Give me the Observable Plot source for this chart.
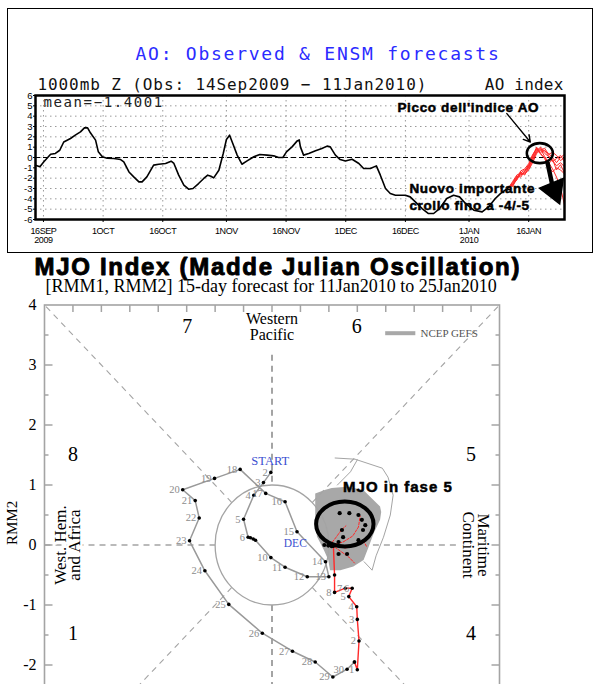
<!DOCTYPE html>
<html>
<head>
<meta charset="utf-8">
<script src="https://cdn.jsdelivr.net/npm/d3@7"></script>
<script src="https://cdn.jsdelivr.net/npm/@observablehq/plot@0.6"></script>
<style>
  html, body { margin: 0; padding: 0; background: #fff; }
  #wrap { position: relative; width: 600px; height: 684px; overflow: hidden; background: #fff; }
  #box { position: absolute; left: 7px; top: 7.5px; width: 585.5px; height: 245px; border: 1.5px solid #000; box-sizing: border-box; }
  #ao, #mjo { position: absolute; left: 0; }
  #ao { top: 0; }
  #mjo { top: 255px; }
</style>
</head>
<body>
<div id="wrap"><div id="box"></div><div id="ao"></div><div id="mjo"></div></div>
<script>
// ================= AO panel data =================
const aoStartUTC = Date.UTC(2009, 8, 14);           // 14 Sep 2009
const aoEndDay = 133;                                // 25 Jan 2010
const aoObsDay = [0,1.1,2.1,3.8,5,6.1,7.1,8.8,10,11.3,
  12.3,13.1,13.8,15.1,15.8,16.8,18,19.7,21.4,22.2,
  23.5,24.7,26,26.8,28,29.7,31,32.7,34.1,34.8,
  36,37.3,38.5,39.6,41,42.3,43.3,44.1,44.8,46.1,
  47.2,48,48.8,49.6,50.7,51.9,53.2,54.9,56.4,58.2,
  59.9,61.1,62.2,63.1,64.5,65.8,66.3,66.6,67.4,68.7,
  70.4,72,73.3,74.1,75.4,76.6,77.9,79.6,81.3,82.5,
  84.2,85.7,86.7,88,89.2,90.5,93,94.2,95.5,97.2,
  98.8,100.1,101.6,103.4,105.1,106.6,108.3,110.2,112.3,113.9,
  115.6,116.9,119];
const aoObsValue = [-0.75,-0.9,-0.42,0.32,0.39,0.7,1.5,1.84,2.16,2.48,
  2.87,2.87,2.39,1.68,0.55,0.07,-0.07,-0.1,-0.2,-0.42,
  -1.4,-1.88,-2.36,-2.36,-1.88,-0.74,-0.65,-0.58,-0.36,-0.58,
  -1.71,-2.68,-3.07,-3.0,-2.52,-2.03,-1.71,-1.81,-1.97,-1.23,
  0.39,1.74,2.16,1.35,0.23,-0.65,-0.33,0.07,0.29,0.23,
  0.16,0,0,0.55,1.03,1.61,1.7,1.03,0.23,0.39,
  0.65,0.87,1.1,1.03,0.23,-0.2,-0.33,-0.17,-0.58,-1.07,
  -1.07,-0.81,-1.71,-3.0,-3.49,-3.65,-3.65,-3.81,-4.3,-4.94,
  -5.42,-5.42,-4.94,-3.97,-3.65,-3.81,-4.52,-5.1,-5.26,-4.78,
  -3.97,-3.49,-2.9];
const aoFcStartDay = 119;   // 11 Jan 2010, daily members to 25 Jan
const aoMember1 = [-2.9,-2.5,-1.9,-1.6,-1.5,-1.1,-0.3,0.6,0.9,0.4,0.1,-0.3,-0.8,-0.5,-0.9];
const aoMember2 = [-2.9,-2.7,-2.1,-1.4,-1.7,-0.9,0.1,0.9,0.5,0.7,0.2,-0.4,-0.1,0.2,-0.4];
const aoMember3 = [-2.9,-2.4,-1.8,-1.9,-1.3,-0.7,0.2,1.0,0.3,0.0,-0.6,-0.2,-1.2,-0.7,-1.5];
const aoMember4 = [-2.9,-2.6,-2.2,-1.5,-1.2,-1.0,-0.1,0.5,0.8,0.1,-0.5,-1.1,-1.9,-2.9,-4.6];
const aoMember5 = [-2.9,-2.8,-2.0,-1.7,-1.4,-0.8,0.0,0.7,1.0,0.6,0.4,0.0,-0.5,0.0,0.3];
const aoMember6 = [-2.9,-2.6,-2.0,-1.3,-1.1,-0.6,0.3,0.8,0.4,-0.1,-0.9,-1.4,-1.0,-1.2,-1.6];
const aoMember7 = [-2.9,-2.3,-1.7,-1.5,-1.6,-1.2,-0.5,0.4,0.7,0.9,0.3,0.5,0.2,-0.3,0.0];
const aoTickDateStr = ["2009-09-16","2009-10-01","2009-10-16","2009-11-01","2009-11-16","2009-12-01","2009-12-16","2010-01-01","2010-01-16"];
const aoTickLabels = ["16SEP\n2009","1OCT","16OCT","1NOV","16NOV","1DEC","16DEC","1JAN\n2010","16JAN"];
const aoYTicks = [-6,-5,-4,-3,-2,-1,0,1,2,3,4,5,6];
const aoNoteText = ["Picco dell'indice AO", "Nuovo importante", "crollo fino a -4/-5"];
const aoNoteDay = [91, 94, 94];
const aoNoteValue = [4.38, -3.45, -5.1];
const aoArrowDay = [118.5, 124.4];
const aoArrowValue = [4.25, 1.5];
const aoRingDay = 126.8, aoRingValue = 0.42;
const aoBigArrowDay = [128.7, 129.9];
const aoBigArrowValue = [-0.45, -2.6];
const aoBigHeadDay = 130.4, aoBigHeadValue = -3.16;

// ================= MJO panel data =================
const decLabel = ["2","3","4","5","6","","","","10","11","12","13","14","15","16","17","18","19","20","21","22","23","24","25","26","27","28","29","30",""];
const decRMM1 = [-0.02,-0.15,-0.32,-0.50,-0.42,-0.38,-0.33,-0.29,-0.02,0.23,0.62,1.0,0.94,0.44,0.23,-0.11,-0.56,-1.01,-1.57,-1.35,-1.28,-1.45,-1.18,-0.76,-0.17,0.36,0.76,1.07,1.32,1.45];
const decRMM2 = [1.21,1.04,0.83,0.43,0.13,0.12,0.10,0.08,-0.21,-0.37,-0.53,-0.53,-0.28,0.22,0.72,0.86,1.26,1.11,0.92,0.74,0.45,0.07,-0.43,-0.99,-1.47,-1.77,-1.95,-2.20,-2.07,-1.95];
const janLabel = ["1","2","3","4","5","6","7","8","",""];
const janRMM1 = [1.50,1.53,1.50,1.49,1.35,1.41,1.29,1.10,1.10,1.08];
const janRMM2 = [-2.08,-1.60,-1.24,-1.03,-0.86,-0.72,-0.72,-0.79,-0.50,-0.02];
const fcDotRMM1 = [0.92,0.99,1.05,1.17,1.25,1.23,1.19,1.36,1.52,1.58,1.64,1.60,1.52,1.17,1.32];
const fcDotRMM2 = [0.0,-0.01,-0.02,0.05,0.13,0.25,0.53,0.53,0.50,0.42,0.33,0.25,0.08,-0.15,-0.15];
const fcMemberRMM1 = [[1.02,1.12,1.22,1.30],[1.05,1.25,1.42,1.52,1.55],[1.05,1.3,1.5,1.62,1.66],[1.05,1.2,1.35,1.45]];
const fcMemberRMM2 = [[0.0,0.12,0.25,0.32],[0.0,0.05,0.15,0.30,0.48],[0.0,-0.05,0.0,0.05,-0.02],[0.0,-0.1,-0.2,-0.3]];
const spreadRMM1 = [0.76,0.94,1.05,1.32,1.60,1.90,1.92,1.90,1.79,1.70,1.61,1.43,1.20,1.02,0.99,0.91,0.79,0.76,0.76,0.76];
const spreadRMM2 = [0.86,0.92,0.95,0.97,0.92,0.64,0.55,0.42,0.20,-0.03,-0.25,-0.36,-0.42,-0.42,-0.25,-0.08,0.14,0.42,0.70,0.86];
const envRMM1 = [1.11,1.46,1.94,2.04,2.13,2.08,1.96,1.83,1.76,1.62];
const envRMM2 = [1.45,1.43,1.28,1.13,0.83,0.50,0.13,-0.18,-0.42,-0.28];
const env2RMM1 = [1.15,1.38,1.50];
const env2RMM2 = [1.0,1.22,1.42];
const phaseLabel = ["7","6","8","5","1","4"];
const phaseRMM1 = [-1.49,1.49,-3.5,3.5,-3.5,3.5];
const phaseRMM2 = [3.53,3.53,1.40,1.40,-1.59,-1.59];
const mjoYTicks = [-2,-1,0,1,2,3,4];
const mjoHalfTicks = [-3.5,-3,-2.5,-2,-1.5,-1,-0.5,0,0.5,1,1.5,2,2.5,3,3.5];

// ================= helpers =================
const dayToDate = d => new Date(aoStartUTC + d * 864e5);
const ellipse = ratio => ({
  draw(ctx, size) {
    const rx = Math.sqrt(size / Math.PI), ry = rx * ratio, k = 0.5523;
    ctx.moveTo(rx, 0);
    ctx.bezierCurveTo(rx, ry * k, rx * k, ry, 0, ry);
    ctx.bezierCurveTo(-rx * k, ry, -rx, ry * k, -rx, 0);
    ctx.bezierCurveTo(-rx, -ry * k, -rx * k, -ry, 0, -ry);
    ctx.bezierCurveTo(rx * k, -ry, rx, -ry * k, rx, 0);
    ctx.closePath();
  }
});
// letter-spacing by text content (Plot has no letterSpacing option)
const spacing = (svg, test, px) => svg.querySelectorAll("text").forEach(t => {
  if (test(t.textContent)) t.setAttribute("letter-spacing", px);
});
const isOneOf = list => s => list.includes(s);

// ================= AO chart =================
const aoObs = aoObsDay.map((d, i) => ({date: dayToDate(d), value: aoObsValue[i]}));
const aoFc = [aoMember1, aoMember2, aoMember3, aoMember4, aoMember5, aoMember6, aoMember7]
  .flatMap((vals, m) => vals.map((v, i) => ({member: m, date: dayToDate(aoFcStartDay + i), value: v})));
const aoTicks = aoTickDateStr.map(s => new Date(s));
const aoNotes = aoNoteText.map((t, i) => ({text: t, date: dayToDate(aoNoteDay[i]), value: aoNoteValue[i]}));

const bold = {fontFamily: "Liberation Sans", fontWeight: "bold", fill: "#000", stroke: "#000", strokeWidth: 0.5};
const aoTitle = "AO: Observed & ENSM forecasts";
const aoSub = "1000mb Z (Obs: 14Sep2009 \u2212 11Jan2010)";
const aoMean = "mean=\u22121.4001";

const ao = Plot.plot({
  width: 600, height: 255,
  marginLeft: 35, marginRight: 36, marginTop: 95, marginBottom: 36,
  x: {type: "utc", domain: [dayToDate(0), dayToDate(aoEndDay)]},
  y: {domain: [-6, 6]},
  style: {fontFamily: "Liberation Sans", background: "transparent", overflow: "visible", color: "#000"},
  marks: [
    Plot.ruleY(aoYTicks, {stroke: "#9a9a9a", strokeDasharray: "1.5,3.5"}),
    Plot.ruleX(aoTicks, {stroke: "#9a9a9a", strokeDasharray: "1.5,3.5"}),
    Plot.ruleY([0], {stroke: "#000", strokeDasharray: "5,3"}),
    Plot.line(aoFc, {x: "date", y: "value", z: "member", stroke: "#ff2a2a", strokeWidth: 1}),
    Plot.line(aoObs, {x: "date", y: "value", stroke: "#000", strokeWidth: 1.6}),
    Plot.frame({stroke: "#000", strokeWidth: 2.5}),
    Plot.axisY({ticks: aoYTicks, tickSize: 2, tickPadding: 1, fontSize: 9.5, tickFormat: d => String(d), label: null}),
    Plot.axisX({ticks: aoTicks, tickSize: 3, tickPadding: 5, fontSize: 9, lineHeight: 1, label: null,
      tickFormat: d => aoTickLabels[aoTicks.findIndex(t => +t === +d)]}),
    Plot.text([aoTitle], {frameAnchor: "top", dx: 18, dy: -35.5, lineAnchor: "bottom",
      fontFamily: "DejaVu Sans Mono", fontSize: 18, fill: "#2b2bff"}),
    Plot.text([aoSub], {frameAnchor: "top-left", textAnchor: "start", dx: 2, dy: -6, lineAnchor: "bottom",
      fontFamily: "DejaVu Sans Mono", fontSize: 16, fill: "#111"}),
    Plot.text(["AO index"], {frameAnchor: "top-right", textAnchor: "end", dx: -1, dy: -6, lineAnchor: "bottom",
      fontFamily: "DejaVu Sans Mono", fontSize: 16, fill: "#111"}),
    Plot.text([aoMean], {frameAnchor: "top-left", textAnchor: "start", dx: 8, dy: 11, lineAnchor: "bottom",
      fontFamily: "DejaVu Sans Mono", fontSize: 14, fill: "#222"}),
    Plot.arrow([0], {x1: () => dayToDate(aoArrowDay[0]), y1: () => aoArrowValue[0], x2: () => dayToDate(aoArrowDay[1]), y2: () => aoArrowValue[1],
      stroke: "#000", strokeWidth: 1.4, headLength: 8}),
    Plot.dot([0], {x: () => dayToDate(aoRingDay), y: () => aoRingValue, r: 13, symbol: ellipse(0.77), stroke: "#000", fill: "none", strokeWidth: 2.6}),
    Plot.link([0], {x1: () => dayToDate(aoBigArrowDay[0]), y1: () => aoBigArrowValue[0], x2: () => dayToDate(aoBigArrowDay[1]), y2: () => aoBigArrowValue[1],
      stroke: "#000", strokeWidth: 4.5}),
    Plot.dot([0], {x: () => dayToDate(aoBigHeadDay), y: () => aoBigHeadValue, r: 9.5, symbol: "triangle", rotate: 158, fill: "#000", stroke: "#000"}),
    Plot.text(aoNotes, {x: "date", y: "value", text: "text", textAnchor: "start", lineAnchor: "bottom", fontSize: 13.5, ...bold})
  ]
});
spacing(ao, isOneOf([aoTitle]), "1.75");
spacing(ao, isOneOf([aoSub]), "0.9");
spacing(ao, isOneOf(["AO index"]), "0.2");
spacing(ao, isOneOf([aoMean]), "1.6");
spacing(ao, isOneOf(aoNoteText), "0.65");
spacing(ao, isOneOf(aoTickLabels.map(s => s.replace("\n", ""))), "-0.4");
document.getElementById("ao").append(ao);

// ================= MJO chart =================
const pxX = 455 / 8, pxY = 480 / 8;
const toPts = (xs, ys, labels) => xs.map((x, i) => ({x, y: ys[i], label: labels ? labels[i] : ""}));
const decPts = toPts(decRMM1, decRMM2, decLabel);
const janPts = toPts([decRMM1[decRMM1.length - 1], ...janRMM1], [decRMM2[decRMM2.length - 1], ...janRMM2], ["", ...janLabel]);
const fcDots = toPts(fcDotRMM1, fcDotRMM2);
const members = fcMemberRMM1.flatMap((xs, m) => xs.map((x, i) => ({m, x, y: fcMemberRMM2[m][i]})));
const spread = toPts(spreadRMM1, spreadRMM2);
const env = toPts(envRMM1, envRMM2);
const env2 = toPts(env2RMM1, env2RMM2);
const phases = toPts(phaseRMM1, phaseRMM2, phaseLabel);
const guides = [
  {x1: 0, y1: 3.17, x2: 0, y2: 1, w: 2}, {x1: 0, y1: -1, x2: 0, y2: -4, w: 2},
  {x1: -4, y1: 0, x2: -1, y2: 0, w: 1.6}, {x1: 1, y1: 0, x2: 3.25, y2: 0, w: 1.6},
  {x1: Math.SQRT1_2, y1: Math.SQRT1_2, x2: 4, y2: 4, w: 1.1}, {x1: -Math.SQRT1_2, y1: Math.SQRT1_2, x2: -4, y2: 4, w: 1.1},
  {x1: -Math.SQRT1_2, y1: -Math.SQRT1_2, x2: -4, y2: -4, w: 1.1}, {x1: Math.SQRT1_2, y1: -Math.SQRT1_2, x2: 4, y2: -4, w: 1.1}
];
const isMajor = v => Number.isInteger(v);
const leftTicks = mjoHalfTicks.map(v => ({x1: -4, x2: -4 + (isMajor(v) ? 8 : 4) / pxX, y1: v, y2: v}));
const rightTicks = mjoHalfTicks.map(v => ({x1: 4, x2: 4 - (isMajor(v) ? 8 : 4) / pxX, y1: v, y2: v}));
const topTicks = mjoHalfTicks.map(v => ({x1: v, x2: v, y1: 4, y2: 4 - 7 / pxY}));

const serif = "Liberation Serif";
const mjoTitle = "MJO Index (Madde Julian Oscillation)";
const mjoNote = "MJO in fase 5";
const mjo = Plot.plot({
  width: 600, height: 550,
  marginLeft: 44, marginRight: 101, marginTop: 49.5, marginBottom: 20.5,
  x: {domain: [-4, 4], axis: null},
  y: {domain: [-4, 4]},
  style: {fontFamily: serif, background: "transparent", overflow: "visible", color: "#000"},
  marks: [
    Plot.line(spread, {x: "x", y: "y", fill: "#a8a8a8", stroke: "none"}),
    Plot.link(guides, {x1: "x1", y1: "y1", x2: "x2", y2: "y2", stroke: "#a4a4a4", strokeWidth: "w", strokeDasharray: "6,5"}),
    Plot.dot([0], {x: () => 0, y: () => 0, r: pxX, symbol: ellipse(pxY / pxX), stroke: "#a4a4a4", fill: "none", strokeWidth: 1.3}),
    Plot.line(env, {x: "x", y: "y", stroke: "#a4a4a4", strokeWidth: 1}),
    Plot.line(env2, {x: "x", y: "y", stroke: "#a4a4a4", strokeWidth: 1}),
    Plot.line(decPts, {x: "x", y: "y", stroke: "#999", strokeWidth: 1.5}),
    Plot.line(janPts, {x: "x", y: "y", stroke: "#ff2a2a", strokeWidth: 1.4}),
    Plot.line(members, {x: "x", y: "y", z: "m", stroke: "#ff2a2a", strokeWidth: 1, strokeDasharray: "2.5,1.5"}),
    Plot.dot(decPts, {x: "x", y: "y", r: 1.8, fill: "#000"}),
    Plot.dot(janPts, {x: "x", y: "y", r: 1.8, fill: "#000"}),
    Plot.dot(fcDots, {x: "x", y: "y", r: 2.1, fill: "#000"}),
    Plot.text(decPts, {x: "x", y: "y", text: "label", textAnchor: "end", dx: -3, fontSize: 10.5, fill: "#8c8c8c"}),
    Plot.text(janPts, {x: "x", y: "y", text: "label", textAnchor: "end", dx: -3, fontSize: 10.5, fill: "#8c8c8c"}),
    Plot.text(["START"], {x: () => -0.03, y: () => 1.34, lineAnchor: "bottom", fontSize: 12.5, fill: "#3a4fd0"}),
    Plot.text(["DEC"], {x: () => 0.41, y: () => -0.03, lineAnchor: "bottom", fontSize: 11.5, fill: "#3a4fd0"}),
    Plot.text(phases, {x: "x", y: "y", text: "label", lineAnchor: "bottom", fontSize: 20, fill: "#000"}),
    Plot.text(["Western\nPacific"], {x: () => 0, y: () => 3.87, lineAnchor: "top", fontSize: 16, lineHeight: 1, fill: "#000"}),
    Plot.text(["West. Hem.\nand Africa"], {x: () => -3.58, y: () => 0, rotate: -90, fontSize: 17, lineHeight: 0.85, fill: "#000", stroke: "#fff", strokeWidth: 5}),
    Plot.text(["Maritime\nContinent"], {x: () => 3.57, y: () => 0, rotate: 90, fontSize: 17, lineHeight: 0.85, fill: "#000", stroke: "#fff", strokeWidth: 5}),
    Plot.link([0], {x1: () => 1.99, x2: () => 2.52, y1: () => 3.53, y2: () => 3.53, stroke: "#a8a8a8", strokeWidth: 4}),
    Plot.text(["NCEP GEFS"], {x: () => 2.61, y: () => 3.53, textAnchor: "start", fontSize: 11, fill: "#555"}),
    Plot.frame({stroke: "#a4a4a4", strokeWidth: 1.6}),
    Plot.link(leftTicks, {x1: "x1", x2: "x2", y1: "y1", y2: "y2", stroke: "#a4a4a4", strokeWidth: 1.5}),
    Plot.link(rightTicks, {x1: "x1", x2: "x2", y1: "y1", y2: "y2", stroke: "#a4a4a4", strokeWidth: 1.5}),
    Plot.link(topTicks, {x1: "x1", x2: "x2", y1: "y1", y2: "y2", stroke: "#a4a4a4", strokeWidth: 1.5}),
    Plot.axisY({ticks: mjoYTicks, tickSize: 0, tickPadding: 8, fontSize: 16, tickFormat: d => String(d), label: null}),
    Plot.text(["RMM2"], {frameAnchor: "left", dx: -32, rotate: -90, fontSize: 15, fill: "#000"}),
    Plot.dot([0], {x: () => 1.28, y: () => 0.35, r: 28.7, symbol: ellipse(0.78), stroke: "#000", fill: "none", strokeWidth: 4}),
    Plot.text([mjoNote], {x: () => 1.25, y: () => 0.89, textAnchor: "start", lineAnchor: "bottom", fontSize: 15, ...bold}),
    Plot.text([mjoTitle], {frameAnchor: "top-left", textAnchor: "start", dx: -10, dy: -30.5, lineAnchor: "bottom",
      fontSize: 24, ...bold, strokeWidth: 0.9}),
    Plot.text(["[RMM1, RMM2] 15-day forecast for 11Jan2010 to 25Jan2010"], {frameAnchor: "top-left", textAnchor: "start", dx: 1, dy: -13.5,
      lineAnchor: "bottom", fontSize: 18, fill: "#000"})
  ]
});
spacing(mjo, isOneOf([mjoTitle]), "1.7");
spacing(mjo, isOneOf([mjoNote]), "1");
document.getElementById("mjo").append(mjo);
</script>
</body>
</html>
